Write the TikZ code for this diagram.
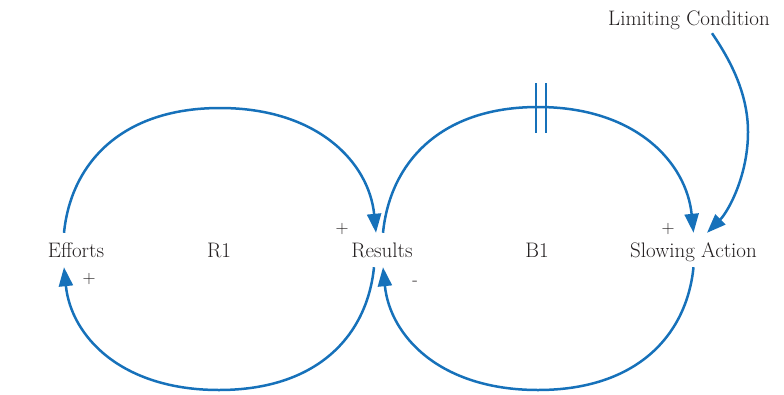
\documentclass[tikz,border=0pt]{standalone}
\usetikzlibrary{arrows.meta}
\definecolor{loopblue}{RGB}{22,113,186}
\definecolor{txt}{RGB}{35,31,32}
\begin{document}
\begin{tikzpicture}[x=1pt,y=-1pt,
  var/.style={text=txt, font=\fontsize{21}{25}\selectfont, text height=14pt, text depth=0pt, inner xsep=0pt, inner ysep=10pt, anchor=base},
  pol/.style={text=txt, font=\fontsize{18}{20}\selectfont, inner sep=0pt},
  link/.style={draw=loopblue, line width=2.5pt, -{Triangle[length=19pt,width=14pt]}},
  delaymark/.style={draw=loopblue, line width=2pt}]
\useasboundingbox (0,0) rectangle (784,394);
% variables
\node[var] (efforts)  at (76,257)   {Efforts};
\node[var] (r1)       at (219,257)  {R1};
\node[var] (results)  at (382,257)  {Results};
\node[var] (b1)       at (537,257)  {B1};
\node[var] (slowing)  at (693.5,257){Slowing Action};
\node[var] (limiting) at (689,25)   {Limiting Condition};
% polarities
\node[pol] (p1) at (342,229) {+};
\node[pol] (p2) at (89,279)  {+};
\node[pol] (m1) at (415,283) {-};
\node[pol] (p3) at (668,229) {+};
% R1 loop
\draw[link] ([xshift=-12pt]efforts.north) .. controls +(7,-70) and +(-98,0) .. (220,108)
            .. controls +(98,0) and +(-7,-70) .. ([xshift=-6pt]results.north);
\draw[link] ([xshift=-8pt]results.south) .. controls +(-7,69) and +(98,0) .. (219,390)
            .. controls +(-98,0) and +(7,69) .. ([xshift=-12pt]efforts.south);
% B1 loop
\draw[link] ([xshift=1pt]results.north) .. controls +(7,-70) and +(-98,0) .. (538,107)
            .. controls +(98,0) and +(-7,-70) .. (slowing.north);
\draw[link] (slowing.south) .. controls +(-7,69) and +(98,0) .. (538,390)
            .. controls +(-98,0) and +(7,69) .. ([xshift=1pt]results.south);
% limiting condition
\draw[link] ([xshift=23pt,yshift=2pt]limiting.south) .. controls +(17,25) and +(0,-40) .. (748,132)
            .. controls +(0,44) and +(21,-21) .. ([xshift=13.5pt]slowing.north);
% delay mark
\draw[delaymark] (536,83) -- (536,133);
\draw[delaymark] (546,83) -- (546,133);
\end{tikzpicture}
\end{document}
